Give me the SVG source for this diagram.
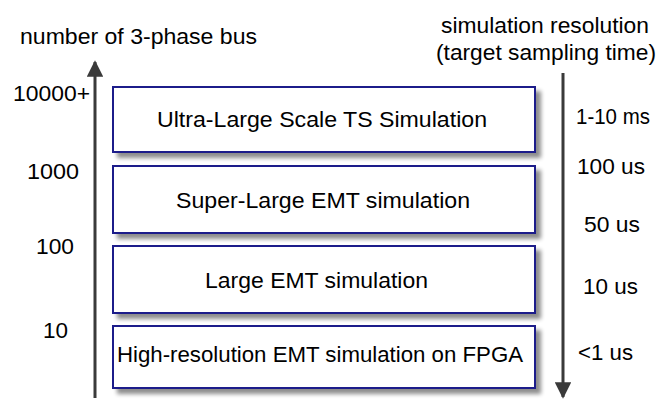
<svg xmlns="http://www.w3.org/2000/svg" width="662" height="399" viewBox="0 0 662 399">
  <defs>
    <filter id="shadow" x="-5%" y="-20%" width="115%" height="150%">
      <feGaussianBlur in="SourceAlpha" stdDeviation="2"/>
      <feOffset dx="5" dy="5" result="b"/>
      <feComponentTransfer><feFuncA type="linear" slope="0.45"/></feComponentTransfer>
      <feMerge><feMergeNode/><feMergeNode in="SourceGraphic"/></feMerge>
    </filter>
    <marker id="head" viewBox="0 0 10 10" refX="9" refY="5" markerWidth="5.5" markerHeight="5.5" markerUnits="strokeWidth" orient="auto">
      <path d="M0,0 L10,5 L0,10 z" fill="#3a3a3a"/>
    </marker>
  </defs>
  <style>
    text { font-family: "Liberation Sans", Arial, sans-serif; font-size: 22px; fill: #000; }
    .box { fill: #fff; stroke: #1a1a8a; stroke-width: 2; filter: url(#shadow); }
    .axis { stroke: #3a3a3a; stroke-width: 3; fill: none; }
  </style>
  <rect width="662" height="399" fill="#fff"/>

  <!-- axis titles -->
  <text x="20" y="44" textLength="237" lengthAdjust="spacingAndGlyphs">number of 3-phase bus</text>
  <text x="441" y="33" textLength="208" lengthAdjust="spacingAndGlyphs">simulation resolution</text>
  <text x="436" y="60" textLength="220" lengthAdjust="spacingAndGlyphs">(target sampling time)</text>

  <!-- axes -->
  <g id="connectors">
    <line class="axis" x1="95" y1="398" x2="95" y2="62" marker-end="url(#head)"/>
    <line class="axis" x1="563" y1="73" x2="563" y2="397" marker-end="url(#head)"/>
  </g>

  <!-- bus count labels -->
  <text x="13" y="101" textLength="77" lengthAdjust="spacingAndGlyphs">10000+</text>
  <text x="27" y="179" textLength="52" lengthAdjust="spacingAndGlyphs">1000</text>
  <text x="36" y="254" textLength="38" lengthAdjust="spacingAndGlyphs">100</text>
  <text x="43" y="338" textLength="25" lengthAdjust="spacingAndGlyphs">10</text>

  <!-- sampling time labels -->
  <text x="576" y="124" textLength="74" lengthAdjust="spacingAndGlyphs">1-10 ms</text>
  <text x="577" y="174" textLength="68" lengthAdjust="spacingAndGlyphs">100 us</text>
  <text x="584" y="232" textLength="56" lengthAdjust="spacingAndGlyphs">50 us</text>
  <text x="583" y="294" textLength="55" lengthAdjust="spacingAndGlyphs">10 us</text>
  <text x="578" y="360" textLength="55" lengthAdjust="spacingAndGlyphs">&lt;1 us</text>

  <!-- simulation tiers -->
  <g id="ts-ultra-large">
    <rect class="box" x="113" y="87" width="422" height="65"/>
    <text x="157" y="127" textLength="330" lengthAdjust="spacingAndGlyphs">Ultra-Large Scale TS Simulation</text>
  </g>
  <g id="emt-super-large">
    <rect class="box" x="113" y="166" width="422" height="67"/>
    <text x="176" y="208" textLength="294" lengthAdjust="spacingAndGlyphs">Super-Large EMT simulation</text>
  </g>
  <g id="emt-large">
    <rect class="box" x="113" y="246" width="422" height="67"/>
    <text x="205" y="288" textLength="223" lengthAdjust="spacingAndGlyphs">Large EMT simulation</text>
  </g>
  <g id="emt-fpga">
    <rect class="box" x="113" y="326" width="422" height="62"/>
    <text x="117" y="362" textLength="406" lengthAdjust="spacingAndGlyphs">High-resolution EMT simulation on FPGA</text>
  </g>
</svg>
